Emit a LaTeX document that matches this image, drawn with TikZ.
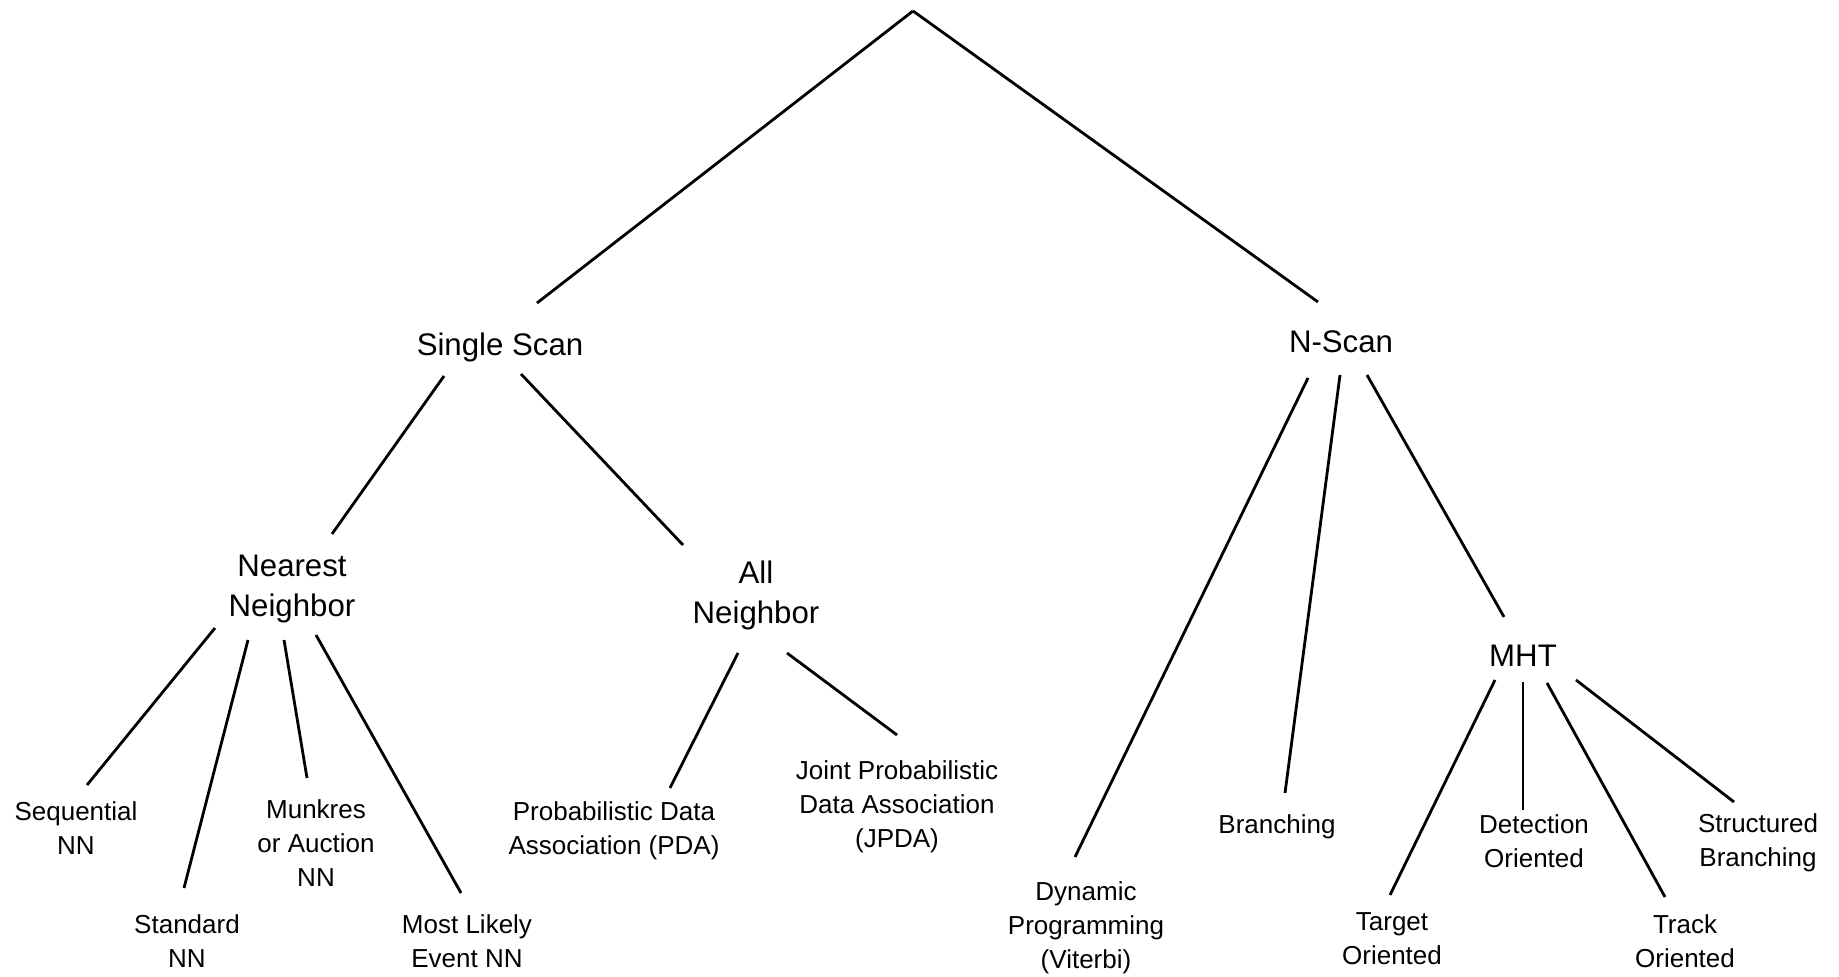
\documentclass[tikz,border=0pt]{standalone}
\usepackage{fontspec}
\setmainfont{Liberation Sans}
\begin{document}
\begin{tikzpicture}[x=0.5pt,y=-0.5pt,
  big/.style={font=\fontsize{15.6pt}{20pt}\selectfont, align=center, anchor=base, inner sep=0pt},
  small/.style={font=\fontsize{13pt}{17pt}\selectfont, align=center, anchor=base, inner sep=0pt},
  branch/.style={line width=1.4pt, black}]
\fill[white] (0,0) rectangle (1839,977);
\useasboundingbox (0,0) rectangle (1839,977);

% root of the taxonomy
\coordinate (root) at (913,11);

% second and third levels (positions are the baseline of the last line)
\node[big] (ss)  at (500,356)  {Single Scan};
\node[big] (ns)  at (1341,353) {N-Scan};
\node[big] (nn)  at (292,616)  {Nearest\\Neighbor};
\node[big] (an)  at (756,623)  {All\\Neighbor};
\node[big] (mht) at (1523,666) {MHT};

% leaves
\node[small] (seq)  at (76,854)   {Sequential\\NN};
\node[small] (std)  at (187,967)  {Standard\\NN};
\node[small] (mun)  at (316,886)  {Munkres\\or Auction\\NN};
\node[small] (mle)  at (467,967)  {Most Likely\\Event NN};
\node[small] (pda)  at (614,854)  {Probabilistic Data\\Association (PDA)};
\node[small] (jpda) at (897,847)  {Joint Probabilistic\\Data Association\\(JPDA)};
\node[small] (dyn)  at (1086,968) {Dynamic\\Programming\\(Viterbi)};
\node[small] (br)   at (1277,833) {Branching};
\node[small] (tgt)  at (1392,964) {Target\\Oriented};
\node[small] (det)  at (1534,867) {Detection\\Oriented};
\node[small] (trk)  at (1685,967) {Track\\Oriented};
\node[small] (sb)   at (1758,866) {Structured\\Branching};

% branches
\draw[branch] (root) -- ([shift={(37,-53)}]ss.base);
\draw[branch] (root) -- ([shift={(-23,-51)}]ns.base);

\draw[branch] ([shift={(-56,20)}]ss.base) -- ([shift={(40,-82)}]nn.base);
\draw[branch] ([shift={(21,18)}]ss.base)  -- ([shift={(-73,-78)}]an.base);

\draw[branch] ([shift={(-77,12)}]nn.base) -- ([shift={(11,-69)}]seq.base);
\draw[branch] ([shift={(-44,24)}]nn.base) -- ([shift={(-3,-79)}]std.base);
\draw[branch] ([shift={(-8,24)}]nn.base)  -- ([shift={(-9,-108)}]mun.base);
\draw[branch] ([shift={(24,19)}]nn.base)  -- ([shift={(-6,-74)}]mle.base);

\draw[branch] ([shift={(-18,30)}]an.base) -- ([shift={(56,-66)}]pda.base);
\draw[branch] ([shift={(31,30)}]an.base)  -- ([shift={(0,-112)}]jpda.base);

\draw[branch] ([shift={(-33,25)}]ns.base) -- ([shift={(-11,-111)}]dyn.base);
\draw[branch] ([shift={(-1,22)}]ns.base)  -- ([shift={(8,-40)}]br.base);
\draw[branch] ([shift={(26,22)}]ns.base)  -- ([shift={(-19,-49)}]mht.base);

\draw[branch] ([shift={(-28,14)}]mht.base) -- ([shift={(-2,-69)}]tgt.base);
\draw[branch] ([shift={(0,16)}]mht.base)   -- ([shift={(-11,-57)}]det.base);
\draw[branch] ([shift={(24,17)}]mht.base)  -- ([shift={(-20,-70)}]trk.base);
\draw[branch] ([shift={(53,14)}]mht.base)  -- ([shift={(-24,-64)}]sb.base);
\end{tikzpicture}
\end{document}
